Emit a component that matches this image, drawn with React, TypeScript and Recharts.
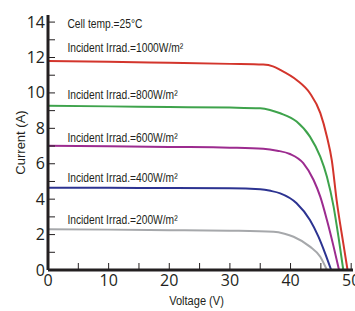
import React from "react";
import {
  LineChart,
  Line,
  XAxis,
  YAxis,
  ReferenceDot,
  Label,
} from "recharts";

// I-V curves, one voltage/current pair per irradiance level
const v1000 = [0, 10, 20, 30, 35.5, 37.1, 38.3, 41.0, 43.2, 44.9, 46.0, 46.8, 47.6, 48.7, 49.4];
const i1000 = [11.8, 11.76, 11.7, 11.64, 11.6, 11.5, 11.3, 10.73, 9.98, 8.87, 7.53, 6.21, 3.95, 1.5, 0];

const v800 = [0, 10, 20, 30, 35, 36.6, 38.3, 41, 43.2, 44.9, 46, 47.1, 47.9, 48.7];
const i800 = [9.27, 9.24, 9.2, 9.17, 9.13, 9.04, 8.85, 8.38, 7.53, 6.4, 5.27, 3.58, 1.88, 0];

const v600 = [0, 10, 20, 30, 35.5, 37.8, 39.9, 42.1, 43.8, 44.9, 46, 47.1, 48.0];
const i600 = [7.02, 6.99, 6.95, 6.91, 6.85, 6.74, 6.55, 6.03, 5.08, 4.14, 2.82, 1.32, 0];

const v400 = [0, 10, 20, 30, 35, 36.7, 38.3, 41, 43.2, 44.6, 45.7, 46.7];
const i400 = [4.65, 4.64, 4.63, 4.62, 4.56, 4.47, 4.33, 3.77, 2.82, 1.88, 0.94, 0];

const v200 = [0, 10, 20, 30, 37.2, 39, 40.5, 43.2, 44.9, 46];
const i200 = [2.3, 2.28, 2.25, 2.22, 2.16, 2.05, 1.88, 1.32, 0.75, 0];

const xTicks = [0, 5, 10, 15, 20, 25, 30, 35, 40, 45, 50];
const yTicks = [0, 1, 2, 3, 4, 5, 6, 7, 8, 9, 10, 11, 12, 13, 14];

const noteTexts = [
  "Cell temp.=25°C",
  "Incident Irrad.=1000W/m²",
  "Incident Irrad.=800W/m²",
  "Incident Irrad.=600W/m²",
  "Incident Irrad.=400W/m²",
  "Incident Irrad.=200W/m²",
];
const noteY = [13.9, 12.54, 9.89, 7.51, 5.25, 2.88];
const noteX = 3.2;

const toPoints = (v: number[], i: number[]) => v.map((x, k) => ({ v: x, i: i[k] }));

const series = [
  { key: "1000", data: toPoints(v1000, i1000), color: "#d3352c" },
  { key: "800", data: toPoints(v800, i800), color: "#3ea34c" },
  { key: "600", data: toPoints(v600, i600), color: "#9c2b8f" },
  { key: "400", data: toPoints(v400, i400), color: "#2c3391" },
  { key: "200", data: toPoints(v200, i200), color: "#a6a8ab" },
];

const INK = "#231f20";
const NUM_FONT = "'Open Sans', 'Liberation Sans', sans-serif";
const SANS = "'Liberation Sans', Arial, sans-serif";

// no condensed face installed, so squeeze Liberation Sans horizontally
const NarrowText = ({ x, y, size, anchor = "start", children }: any) => (
  <text
    transform={`translate(${x} ${y}) scale(0.82 1)`}
    textAnchor={anchor}
    fontSize={size}
    fontFamily={SANS}
    fill={INK}
  >
    {children}
  </text>
);

const XTick = (props: any) => {
  const { x, y, payload } = props;
  const val = payload.value;
  return (
    <g>
      <line x1={x} x2={x} y1={y} y2={y - 7} stroke={INK} strokeWidth={1} />
      {val % 10 === 0 && (
        <text x={x} y={y + 16} textAnchor="middle" fontSize={16} fontFamily={NUM_FONT} fill={INK}>
          {val}
        </text>
      )}
    </g>
  );
};

const YTick = (props: any) => {
  const { x, y, payload } = props;
  const val = payload.value;
  return (
    <g>
      <line x1={x} x2={x + 7} y1={y} y2={y} stroke={INK} strokeWidth={1} />
      {val % 2 === 0 && (
        <text x={x - 3} y={y + 5.5} textAnchor="end" fontSize={16} fontFamily={NUM_FONT} fill={INK}>
          {val}
        </text>
      )}
    </g>
  );
};

export default function App() {
  return (
    <div style={{ position: "absolute", left: 0, top: 0, background: "#fff" }}>
      <LineChart width={355} height={311} margin={{ top: 15, right: 2, bottom: 0, left: 0 }}>
        <XAxis
          dataKey="v"
          type="number"
          domain={[0, 50.3]}
          ticks={xTicks}
          interval={0}
          tick={<XTick />}
          tickLine={false}
          tickSize={0}
          tickMargin={0}
          height={41}
          axisLine={{ stroke: INK, strokeWidth: 3 }}
          allowDuplicatedCategory={false}
        >
          <Label
            content={(p: any) => {
              const vb = p.viewBox;
              return (
                <NarrowText x={vb.x + vb.width / 2 - 4} y={vb.y + vb.height - 6} size={13.5} anchor="middle">
                  Voltage (V)
                </NarrowText>
              );
            }}
          />
        </XAxis>
        <YAxis
          dataKey="i"
          type="number"
          domain={[0, 14.4]}
          ticks={yTicks}
          interval={0}
          tick={<YTick />}
          tickLine={false}
          tickSize={0}
          tickMargin={0}
          width={48}
          axisLine={{ stroke: INK, strokeWidth: 3 }}
        >
          <Label
            value="Current (A)"
            angle={-90}
            position="insideLeft"
            offset={20}
            style={{ fontSize: 13, fontFamily: SANS, fill: INK, textAnchor: "middle" }}
          />
        </YAxis>
        {series.map((s) => (
          <Line
            key={s.key}
            data={s.data}
            dataKey="i"
            type="monotone"
            stroke={s.color}
            strokeWidth={2}
            dot={false}
            isAnimationActive={false}
          />
        ))}
        {noteTexts.map((t, k) => (
          <ReferenceDot
            key={t}
            x={noteX}
            y={noteY[k]}
            r={0}
            shape={(p: any) => (
              <NarrowText x={p.cx} y={p.cy + 4.5} size={12.5}>
                {t}
              </NarrowText>
            )}
          />
        ))}
      </LineChart>
    </div>
  );
}
